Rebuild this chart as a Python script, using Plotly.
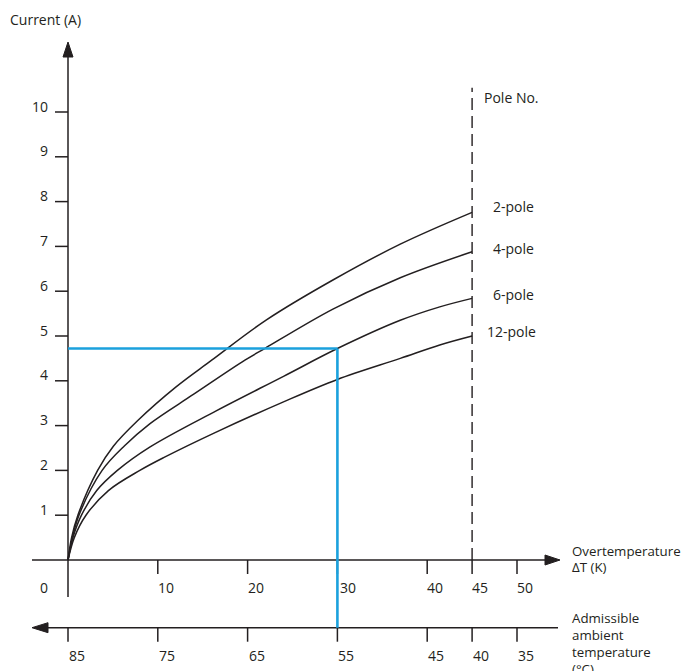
import plotly.graph_objects as go

# ---------------- data ----------------
dT_2pole = [0, 0.4, 1.1, 3.3, 5.05, 7.8, 12.0, 16.0, 22.1, 29.5, 37.0, 45.0]
I_2pole = [0, 0.5, 1.0, 2.0, 2.54, 3.12, 3.86, 4.46, 5.36, 6.25, 7.05, 7.76]

dT_4pole = [0, 0.5, 1.22, 3.8, 6.3, 9.1, 14.0, 19.7, 21.9, 29.5, 37.0, 45.0]
I_4pole = [0, 0.5, 1.0, 2.0, 2.55, 3.04, 3.7, 4.46, 4.72, 5.6, 6.3, 6.88]

dT_6pole = [0, 0.55, 1.5, 3.2, 5.5, 9.1, 16.5, 24.0, 30.0, 37.0, 41.4, 45.0]
I_6pole = [0, 0.5, 1.0, 1.55, 2.0, 2.52, 3.33, 4.1, 4.72, 5.35, 5.65, 5.84]

dT_12pole = [0, 0.7, 2.0, 4.5, 8.0, 10.7, 16.56, 24.0, 30.0, 37.0, 41.4, 45.0]
I_12pole = [0, 0.5, 1.0, 1.55, 2.0, 2.29, 2.86, 3.53, 4.03, 4.5, 4.8, 5.0]

series_names = ["2-pole", "4-pole", "6-pole", "12-pole"]

y_ticks = [1, 2, 3, 4, 5, 6, 7, 8, 9, 10]
x_ticks = [10, 20, 30, 40, 45, 50]
x_tick_labels = ["10", "20", "30", "40", "45", "50"]
amb_ticks = [0, 10, 20, 30, 40, 45, 50]
amb_tick_labels = ["85", "75", "65", "55", "45", "40", "35"]

example_dT = 30
example_I = 4.72
pole_line_dT = 45
pole_line_top = 10.54

# ---------------- layout helpers ----------------
W, H = 683, 671
X0_PX, Y0_PX = 68, 560
PX_X, PX_Y = 8.98, 44.8
x_range = [-X0_PX / PX_X, (W - X0_PX) / PX_X]
y_range = [-(H - Y0_PX) / PX_Y, Y0_PX / PX_Y]

INK = "#231f20"
BLUE = "#1ba1dd"
FONT = "Open Sans"

fig = go.Figure()

for xs, ys, name in zip([dT_2pole, dT_4pole, dT_6pole, dT_12pole],
                        [I_2pole, I_4pole, I_6pole, I_12pole], series_names):
    fig.add_trace(go.Scatter(x=xs, y=ys, mode="lines", name=name,
                             line=dict(color=INK, width=1.5, shape="spline", smoothing=1.0),
                             hoverinfo="x+y+name"))

shapes = []
def line(x0, y0, x1, y1, color=INK, width=1.5, dash=None):
    d = dict(type="line", x0=x0, y0=y0, x1=x1, y1=y1, xref="x", yref="y",
             line=dict(color=color, width=width), layer="above")
    if dash:
        d["line"]["dash"] = dash
    shapes.append(d)

lower_y = -(627.7 - Y0_PX) / PX_Y
tick_len_x = 14 / PX_Y
tick_len_y = 13 / PX_X

# y axis
line(0, -(597 - Y0_PX) / PX_Y, 0, 11.3)
# upper x axis
line(-(X0_PX - 32) / PX_X, 0, 54.0, 0)
# lower x axis
line(-2.4, lower_y, (558 - X0_PX) / PX_X, lower_y)

# arrowheads
ty = (Y0_PX - 42) / PX_Y
by = (Y0_PX - 57) / PX_Y
hw = 5 / PX_X
shapes.append(dict(type="path", xref="x", yref="y", fillcolor=INK, line=dict(color=INK, width=1),
                   path=f"M 0,{ty} L {-hw},{by} L {hw},{by} Z"))
tx = (560 - X0_PX) / PX_X
bx = (545 - X0_PX) / PX_X
hh = 5 / PX_Y
shapes.append(dict(type="path", xref="x", yref="y", fillcolor=INK, line=dict(color=INK, width=1),
                   path=f"M {tx},0 L {bx},{-hh} L {bx},{hh} Z"))
tx2 = (32 - X0_PX) / PX_X
bx2 = (48 - X0_PX) / PX_X
shapes.append(dict(type="path", xref="x", yref="y", fillcolor=INK, line=dict(color=INK, width=1),
                   path=f"M {tx2},{lower_y} L {bx2},{lower_y - hh} L {bx2},{lower_y + hh} Z"))

# ticks
for v in y_ticks:
    line(-tick_len_y, v, 0, v)
for v in x_ticks:
    line(v, 0, v, -tick_len_x)
for v in amb_ticks:
    line(v, lower_y, v, lower_y - tick_len_x)

# pole no. dashed line
line(pole_line_dT, 0, pole_line_dT, pole_line_top, width=1.4, dash="12px,6px")

# blue example lines
line(0, example_I, example_dT, example_I, color=BLUE, width=2.6)
line(example_dT, example_I, example_dT, lower_y, color=BLUE, width=2.6)

annotations = []
def text(x, y, s, xanchor="left", yanchor="middle", xshift=0, yshift=0, xref="x", yref="y", size=14):
    annotations.append(dict(x=x, y=y, text=s, showarrow=False, xanchor=xanchor, yanchor=yanchor,
                            xshift=xshift, yshift=yshift, xref=xref, yref=yref,
                            font=dict(family=FONT, size=size, color=INK)))

for v in y_ticks:
    text(0, v, str(v), xanchor="right", xshift=-18, yshift=6)
text(0, -(587 - Y0_PX) / PX_Y, "0", xanchor="right", xshift=-18)
for v, s in zip(x_ticks, x_tick_labels):
    text(v, -(587 - Y0_PX) / PX_Y, s, xanchor="left", xshift=-2 if v != 30 else 1)
for v, s in zip(amb_ticks, amb_tick_labels):
    text(v, -(655 - Y0_PX) / PX_Y, s, xanchor="left", xshift=-1)

text(8 / W, 1 - 20 / H, "Current (A)", xref="paper", yref="paper")
text(482 / W, 1 - 97 / H, "Pole No.", xref="paper", yref="paper")
for s, ypx, xpx in zip(series_names, [206.7, 248.3, 294, 331.7], [490.5, 490.5, 490.5, 484.5]):
    text(xpx / W, 1 - ypx / H, s, xref="paper", yref="paper")
text(570 / W, 1 - 550.5 / H, "Overtemperature", xref="paper", yref="paper", size=13.3)
text(570 / W, 1 - 566.5 / H, "ΔT (K)", xref="paper", yref="paper", size=13.3)
for s, ypx in zip(["Admissible", "ambient", "temperature", "(°C)"], [618, 635, 652, 669]):
    text(570 / W, 1 - ypx / H, s, xref="paper", yref="paper", size=13.3)

fig.update_layout(
    width=W, height=H, margin=dict(l=0, r=0, t=0, b=0),
    paper_bgcolor="white", plot_bgcolor="white", showlegend=False,
    xaxis=dict(range=x_range, visible=False, fixedrange=True),
    yaxis=dict(range=y_range, visible=False, fixedrange=True),
    shapes=shapes, annotations=annotations,
)

fig.write_html("out.html", config={"displayModeBar": False},
               post_script="document.body.style.margin='0';document.body.style.overflow='hidden';")
